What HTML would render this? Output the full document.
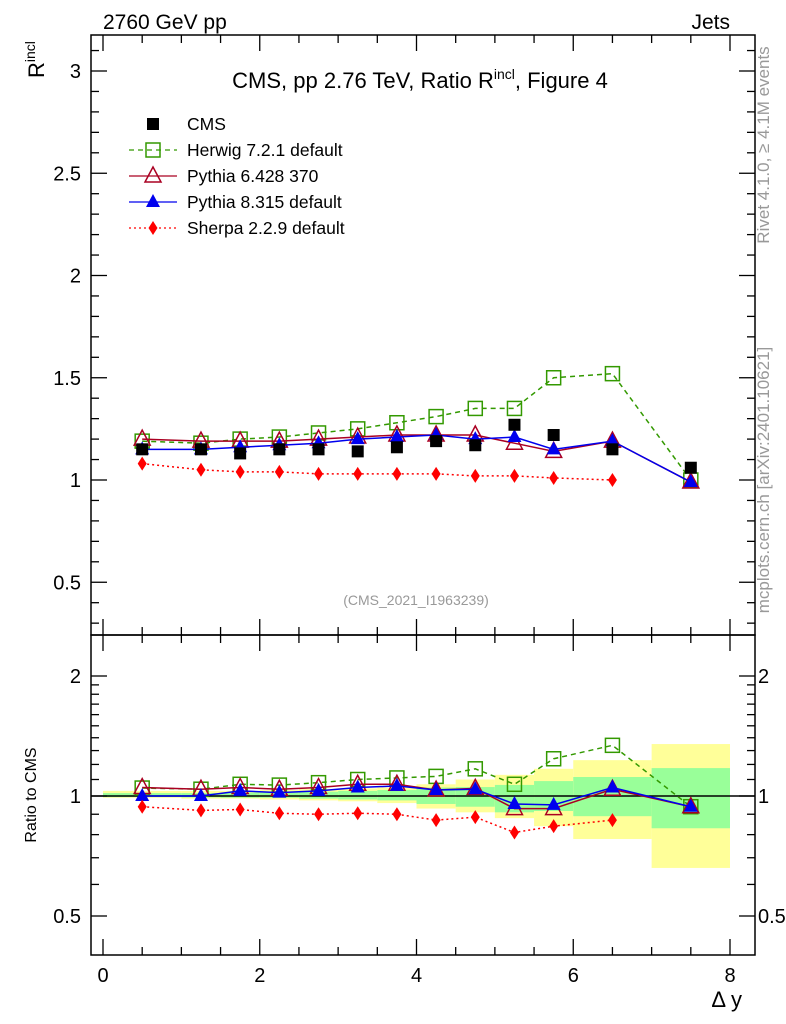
<!DOCTYPE html>
<html><head><meta charset="utf-8"><style>
html,body{margin:0;padding:0;background:#fff;}
svg{display:block;font-family:"Liberation Sans",sans-serif;}
</style></head><body>
<svg id="chart" width="786" height="1024" xmlns="http://www.w3.org/2000/svg">
<g id="bands"></g>
<g id="axes"></g>
<g id="series"></g>
<text x="103" y="29" font-size="21">2760 GeV pp</text>
<text x="730" y="29" font-size="21" text-anchor="end">Jets</text>
<text x="420" y="88" font-size="22" text-anchor="middle">CMS, pp 2.76 TeV, Ratio R<tspan dy="-9" font-size="14">incl</tspan><tspan dy="9">, Figure 4</tspan></text>
<text x="416" y="605" font-size="14" fill="#999" text-anchor="middle">(CMS_2021_I1963239)</text>
<text transform="translate(44,78) rotate(-90)" font-size="22">R<tspan dy="-9" font-size="14">incl</tspan></text>
<text transform="translate(36,795) rotate(-90)" font-size="16" text-anchor="middle">Ratio to CMS</text>
<text x="742" y="1007" font-size="22" text-anchor="end">Δ y</text>
<text transform="translate(769,145) rotate(-90)" font-size="17" fill="#999" text-anchor="middle">Rivet 4.1.0, ≥ 4.1M events</text>
<text transform="translate(769,480) rotate(-90)" font-size="17" fill="#999" text-anchor="middle">mcplots.cern.ch [arXiv:2401.10621]</text>
<g id="legend"></g>
</svg>
<script>
const xs=[0.5,1.25,1.75,2.25,2.75,3.25,3.75,4.25,4.75,5.25,5.75,6.5,7.5];
const binEdges=[0,1,1.5,2,2.5,3,3.5,4,4.5,5,5.5,6,7,8];
const cms=[1.15,1.15,1.13,1.15,1.15,1.14,1.16,1.19,1.17,1.27,1.22,1.15,1.06];
const herwig=[1.19,1.18,1.20,1.21,1.23,1.25,1.28,1.31,1.35,1.35,1.50,1.52,1.00];
const py6=[1.20,1.19,1.19,1.19,1.20,1.21,1.22,1.22,1.22,1.18,1.14,1.19,0.99];
const py8=[1.15,1.15,1.16,1.17,1.18,1.20,1.21,1.22,1.20,1.21,1.15,1.19,0.99];
const sherpa=[1.08,1.05,1.04,1.04,1.03,1.03,1.03,1.03,1.02,1.02,1.01,1.00];
const rHerwig=[1.047,1.04,1.07,1.065,1.08,1.10,1.11,1.12,1.17,1.07,1.24,1.34,0.94];
const rPy6=[1.05,1.04,1.05,1.04,1.05,1.07,1.07,1.035,1.045,0.93,0.93,1.04,0.94];
const rPy8=[1.0,1.0,1.03,1.02,1.03,1.05,1.06,1.035,1.04,0.955,0.95,1.05,0.94];
const rSherpa=[0.94,0.92,0.925,0.905,0.90,0.905,0.90,0.87,0.885,0.81,0.84,0.87];
const yelLo=[0.99,0.985,0.985,0.98,0.975,0.97,0.96,0.93,0.91,0.88,0.84,0.78,0.66];
const yelHi=[1.03,1.03,1.03,1.035,1.04,1.045,1.05,1.07,1.10,1.13,1.17,1.23,1.35];
const grnLo=[0.994,0.992,0.99,0.99,0.985,0.98,0.975,0.955,0.94,0.91,0.917,0.89,0.83];
const grnHi=[1.017,1.017,1.02,1.02,1.025,1.03,1.035,1.05,1.053,1.066,1.09,1.116,1.175];
const mainTicks=[0.5,1,1.5,2,2.5,3];
const ratioTicks=[0.5,1,2];
const xTicks=[0,2,4,6,8];

const NS='http://www.w3.org/2000/svg';
const L=91,R=755,T=35,MB=635,RB=955;
const X=v=>103+v*78.375;
const Y=v=>480-(v-1)*204.5;
const YR=v=>796-120*Math.log2(v);
function mk(tag,attrs,parent){const e=document.createElementNS(NS,tag);for(const k in attrs)e.setAttribute(k,attrs[k]);parent.appendChild(e);return e;}
const bands=document.getElementById('bands'),axes=document.getElementById('axes'),ser=document.getElementById('series'),leg=document.getElementById('legend');

for(let i=0;i<xs.length;i++){
  const y=mk('rect',{x:X(binEdges[i]),y:YR(yelHi[i]),width:X(binEdges[i+1])-X(binEdges[i]),height:YR(yelLo[i])-YR(yelHi[i]),fill:'#ffff99'},bands);
  
  
  const g=mk('rect',{x:X(binEdges[i]),y:YR(grnHi[i]),width:X(binEdges[i+1])-X(binEdges[i]),height:YR(grnLo[i])-YR(grnHi[i]),fill:'#99ff99'},bands);
  
  
}
mk('rect',{x:L,y:T,width:R-L,height:MB-T,fill:'none',stroke:'#000','stroke-width':1.5},axes);
mk('rect',{x:L,y:MB,width:R-L,height:RB-MB,fill:'none',stroke:'#000','stroke-width':1.5},axes);
mk('line',{x1:L,x2:R,y1:YR(1),y2:YR(1),stroke:'#000','stroke-width':1.5},axes);
function tick(x1,y1,x2,y2){mk('line',{x1,y1,x2,y2,stroke:'#000','stroke-width':1.3},axes);}
for(let v=0.3;v<=3.15;v+=0.1){const y=Y(v);const maj=Math.abs(v*2-Math.round(v*2))<1e-6;const len=maj?16:8;tick(L,y,L+len,y);tick(R,y,R-len,y);}
mainTicks.forEach(v=>{const t=mk('text',{x:L-10,y:Y(v)+7,'font-size':20,'text-anchor':'end'},axes);t.textContent=String(v);});
[0.6,0.7,0.8,0.9,1.1,1.2,1.3,1.4,1.5,1.6,1.7,1.8,1.9].forEach(v=>{const y=YR(v);tick(L,y,L+8,y);tick(R,y,R-8,y);});
ratioTicks.forEach(v=>{const y=YR(v);tick(L,y,L+16,y);tick(R,y,R-16,y);
 const t=mk('text',{x:L-10,y:y+7,'font-size':20,'text-anchor':'end'},axes);t.textContent=String(v);
 const t2=mk('text',{x:R+3,y:y+7,'font-size':20},axes);t2.textContent=String(v);});
for(let v=-0.1;v<=8.1;v+=0.5){const x=X(Math.round(v*2)/2);if(x<L||x>R)continue;const maj=Math.round(v*2)%4===0;const len=maj?16:8;
 [T,MB].forEach(y0=>tick(x,y0,x,y0+len));[MB,RB].forEach(y0=>tick(x,y0,x,y0-len));}
xTicks.forEach(v=>{const t=mk('text',{x:X(v),y:982,'font-size':20,'text-anchor':'middle'},axes);t.textContent=String(v);});

function marker(type,cx,cy,col,parent){
  if(type==='sq')return mk('rect',{x:cx-6,y:cy-6,width:12,height:12,fill:'#000'},parent);
  if(type==='osq')return mk('rect',{x:cx-7,y:cy-7,width:14,height:14,fill:'none',stroke:col,'stroke-width':1.5},parent);
  if(type==='otri')return mk('polygon',{points:`${cx},${cy-9} ${cx-8},${cy+6} ${cx+8},${cy+6}`,fill:'none',stroke:col,'stroke-width':1.5},parent);
  if(type==='tri')return mk('polygon',{points:`${cx},${cy-8} ${cx-7},${cy+5} ${cx+7},${cy+5}`,fill:col},parent);
  if(type==='dia')return mk('polygon',{points:`${cx},${cy-7} ${cx-4.5},${cy} ${cx},${cy+7} ${cx+4.5},${cy}`,fill:col},parent);
}
function drawSeries(vals,yf,col,dash,type,name,line){
  const g=mk('g',{},ser);
  
  
  if(line){const pts=vals.map((v,i)=>X(xs[i])+','+yf(v)).join(' ');
    const a={points:pts,fill:'none',stroke:col,'stroke-width':1.5};if(dash)a['stroke-dasharray']=dash;mk('polyline',a,g);}
  vals.forEach((v,i)=>{const m=marker(type,X(xs[i]),yf(v),col,g);
    
    });
}
drawSeries(herwig,Y,'#339900','5,4','osq','herwig-main',true);
drawSeries(py6,Y,'#aa0022',null,'otri','pythia6-main',true);
drawSeries(py8,Y,'#0000ee',null,'tri','pythia8-main',true);
drawSeries(sherpa,Y,'#ff0000','2,3','dia','sherpa-main',true);
drawSeries(cms,Y,'#000',null,'sq','cms-main',false);
drawSeries(rHerwig,YR,'#339900','5,4','osq','herwig-ratio',true);
drawSeries(rPy6,YR,'#aa0022',null,'otri','pythia6-ratio',true);
drawSeries(rPy8,YR,'#0000ee',null,'tri','pythia8-ratio',true);
drawSeries(rSherpa,YR,'#ff0000','2,3','dia','sherpa-ratio',true);

const legNames=['CMS','Herwig 7.2.1 default','Pythia 6.428 370','Pythia 8.315 default','Sherpa 2.2.9 default'];
const legCols=['#000','#339900','#aa0022','#0000ee','#ff0000'];
const legTypes=['sq','osq','otri','tri','dia'];
const legDash=[null,'5,4',null,null,'2,3'];
legNames.forEach((n,i)=>{const y=124+i*26;const g=mk('g',{},leg);
  
  
  if(i>0){const a={x1:129,x2:177,y1:y,y2:y,stroke:legCols[i],'stroke-width':1.3};if(legDash[i])a['stroke-dasharray']=legDash[i];mk('line',a,g);}
  marker(legTypes[i],153,y,legCols[i],g);
  const t=mk('text',{x:187,y:y+6,'font-size':17.5},g);t.textContent=n;});
</script>
</body></html>
